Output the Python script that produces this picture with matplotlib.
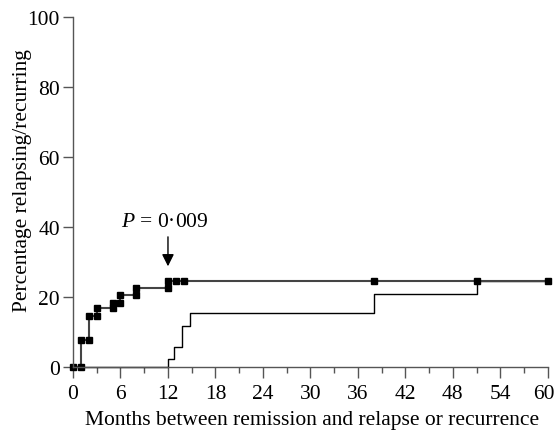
import matplotlib
matplotlib.use("Agg")
import matplotlib.pyplot as plt
import matplotlib.transforms as mtransforms

plt.rcParams['font.family'] = ['Liberation Serif', 'DejaVu Serif']
plt.rcParams['mathtext.fontset'] = 'custom'
plt.rcParams['mathtext.it'] = 'Liberation Serif:italic'
plt.rcParams['mathtext.rm'] = 'Liberation Serif'

# group 1 (upper curve, with markers)
months_a = [0, 1, 1, 2, 2, 3, 3, 5, 5, 6, 6, 8, 8, 12, 12, 13, 14, 38, 51, 60]
pct_a = [0, 0, 7.6, 7.6, 14.5, 14.5, 16.9, 16.9, 18.4, 18.4, 20.5, 20.5, 22.7,
         22.7, 24.7, 24.7, 24.7, 24.7, 24.7, 24.7]

# group 2 (lower curve, no markers)
months_b = [0, 12, 12, 12.8, 12.8, 13.8, 13.8, 14.8, 14.8, 38, 38, 51, 51, 60]
pct_b = [0, 0, 2.4, 2.4, 5.6, 5.6, 11.6, 11.6, 15.5, 15.5, 20.9, 20.9, 24.7, 24.7]

x_ticks = list(range(0, 61, 6))
y_ticks = [0, 20, 40, 60, 80, 100]

fig = plt.figure(figsize=(5.54, 4.31), dpi=100)
ax = fig.add_axes([0.1318, 0.146, 0.857, 0.812])

ax.plot(months_b, pct_b, color='black', lw=1.0, clip_on=False)
ax.plot(months_a, pct_a, color='#444444', lw=1.5, clip_on=False)
ax.plot(months_a, pct_a, ls='none', marker='s', ms=5, color='black', clip_on=False)

ax.annotate('', xy=(12, 28), xytext=(12, 38),
            arrowprops=dict(arrowstyle='-|>', color='black', lw=1.0, mutation_scale=18))
ax.text(11.6, 41.6, '$P$ = 0·009', ha='center', va='center', fontsize=15.5)

ax.set_xlim(0, 60)
ax.set_ylim(0, 100)
ax.set_xticks(x_ticks)
ax.set_xticks(range(3, 61, 6), minor=True)
ax.set_yticks(y_ticks)
ax.tick_params(axis='both', which='major', direction='out', width=1,
               color='#555555', labelsize=15.5)
ax.tick_params(axis='x', which='major', length=8, pad=4.5)
ax.tick_params(axis='y', which='major', length=7.5, pad=2)
ax.tick_params(axis='x', which='minor', direction='out', length=4.5, width=1, color='#555555')

# nudge the last x label so it stays inside the figure
last = ax.xaxis.get_majorticklabels()[-1]
last.set_transform(last.get_transform() +
                   mtransforms.ScaledTranslation(-0.04, 0, fig.dpi_scale_trans))

for s in ['top', 'right']:
    ax.spines[s].set_visible(False)
for s in ['left', 'bottom']:
    ax.spines[s].set_color('#555555')
    ax.spines[s].set_linewidth(1.0)

ax.set_xlabel('Months between remission and relapse or recurrence', fontsize=15.5)
ax.set_ylabel('Percentage relapsing/recurring', fontsize=15.5)
ax.xaxis.set_label_coords(0.503, -0.122)
ax.yaxis.set_label_coords(-0.086, 0.537)

fig.savefig('out.png', dpi=100)
